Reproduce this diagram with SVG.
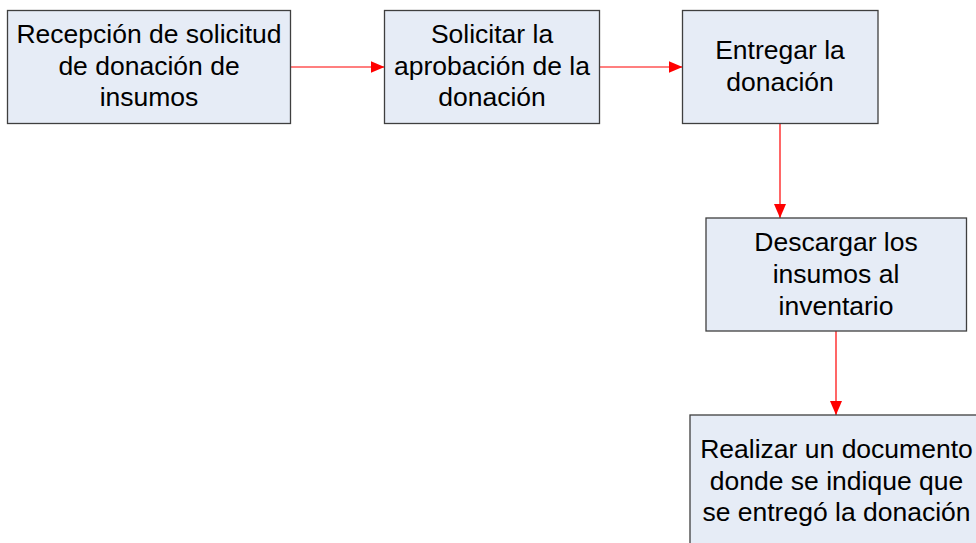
<svg xmlns="http://www.w3.org/2000/svg" width="976" height="543" viewBox="0 0 976 543">
  <style>
    .box { fill: #e6ecf6; stroke: #3f3f3f; stroke-width: 1.3; }
    .lbl { font-family: "Liberation Sans", Arial, sans-serif; font-size: 26.5px; fill: #000; text-anchor: middle; }
    .conn { stroke: #ff0000; stroke-width: 1.2; fill: none; marker-end: url(#arrow); }
  </style>
  <defs>
    <marker id="arrow" markerWidth="14" markerHeight="12" refX="14" refY="6" orient="auto" markerUnits="userSpaceOnUse">
      <path d="M0,0 L14,6 L0,12 Z" fill="#ff0000"/>
    </marker>
  </defs>

  <g id="connectors">
    <line class="conn" x1="290.5" y1="67" x2="384.5" y2="67"/>
    <line class="conn" x1="599.5" y1="67" x2="682.5" y2="67"/>
    <line class="conn" x1="780" y1="124" x2="780" y2="218"/>
    <line class="conn" x1="836" y1="331" x2="836" y2="415"/>
  </g>

  <g id="n1">
    <rect class="box" x="7.5" y="10.5" width="283" height="113"/>
    <text class="lbl" x="149" y="43">Recepción de solicitud</text>
    <text class="lbl" x="149" y="74.5">de donación de</text>
    <text class="lbl" x="149" y="106">insumos</text>
  </g>

  <g id="n2">
    <rect class="box" x="384.5" y="10.5" width="215" height="113"/>
    <text class="lbl" x="492" y="43">Solicitar la</text>
    <text class="lbl" x="492" y="74.5">aprobación de la</text>
    <text class="lbl" x="492" y="106">donación</text>
  </g>

  <g id="n3">
    <rect class="box" x="682.5" y="10.5" width="195.5" height="113"/>
    <text class="lbl" x="780" y="59">Entregar la</text>
    <text class="lbl" x="780" y="90.5">donación</text>
  </g>

  <g id="n4">
    <rect class="box" x="706" y="218" width="260.5" height="113"/>
    <text class="lbl" x="836" y="251">Descargar los</text>
    <text class="lbl" x="836" y="283">insumos al</text>
    <text class="lbl" x="836" y="315">inventario</text>
  </g>

  <g id="n5">
    <rect class="box" x="690" y="415" width="293" height="140"/>
    <text class="lbl" x="836.5" y="458">Realizar un documento</text>
    <text class="lbl" x="836.5" y="489.5">donde se indique que</text>
    <text class="lbl" x="836.5" y="521">se entregó la donación</text>
  </g>
</svg>
